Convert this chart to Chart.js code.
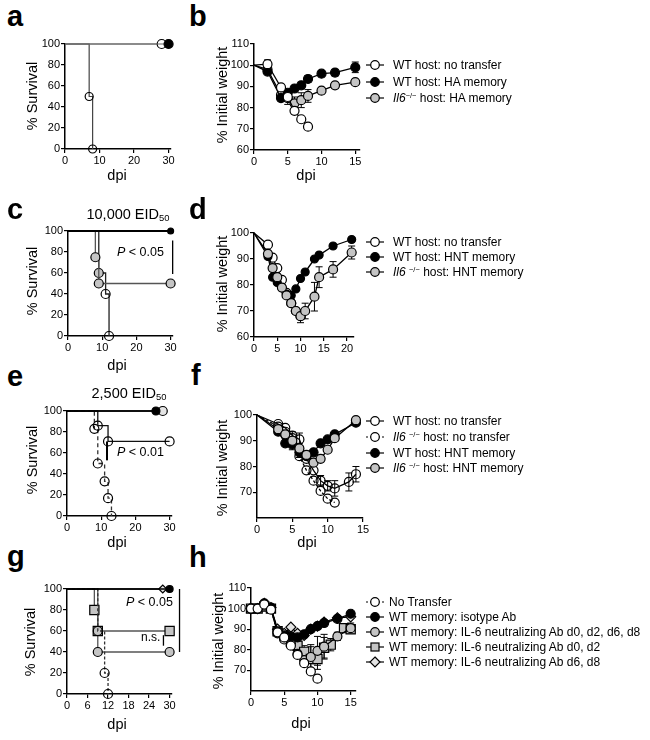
<!DOCTYPE html>
<html><head><meta charset="utf-8">
<script src="https://cdn.jsdelivr.net/npm/chart.js@4.4.0/dist/chart.umd.min.js"></script>
<style>
body{margin:0;background:#fff;width:650px;height:740px;position:relative;overflow:hidden;font-family:"Liberation Sans",Arial,Helvetica,sans-serif;color:#000;}
canvas{position:absolute;}
.t{position:absolute;white-space:nowrap;line-height:1;}
.sub{font-size:0.65em;position:relative;top:0.25em;}
.sup{font-size:0.62em;position:relative;top:-0.55em;}
svg{position:absolute;}
</style></head><body>
<script>
// ---------------- DATA ----------------
// a: survival, HA memory
const aNoTransferDay = [0, 7, 8];
const aNoTransferSurv = [100, 50, 0];
const aHAMemDay = [0, 30];
const aHAMemSurv = [100, 100];
const aIl6HAMemDay = [0, 28];
const aIl6HAMemSurv = [100, 100];
const aXTicks = [0, 10, 20, 30];
const aYTicks = [0, 20, 40, 60, 80, 100];

// b: weight, HA memory
const bNoTransferDay = [0, 2, 4, 5, 6, 7, 8];
const bNoTransferWeight = [100, 100.5, 89.5, 85, 78.5, 74.5, 71];
const bNoTransferSEM = [0, 2, 1, 1, 1.5, 0, 0];
const bHAMemDay = [0, 2, 4, 5, 6, 7, 8, 10, 12, 15];
const bHAMemWeight = [100, 97, 84.5, 87, 89, 90.5, 93.5, 96, 96.5, 99];
const bHAMemSEM = [0, 1, 1, 1.5, 1.5, 1.5, 1.5, 1.5, 1.5, 2.5];
const bIl6HAMemWeight = [100, 98, 86, 84.5, 82, 83.5, 85.5, 88, 90.5, 92];
const bIl6HAMemSEM = [0, 1, 1, 3, 3, 3.5, 3, 1.5, 1, 1];
const bXTicks = [0, 5, 10, 15];
const bYTicks = [60, 70, 80, 90, 100, 110];

// c: survival, 10,000 EID50
const cNoTransferDay = [0, 9, 11, 12];
const cNoTransferSurv = [100, 60, 40, 0];
const cHNTMemDay = [0, 30];
const cHNTMemSurv = [100, 100];
const cIl6HNTMemDay = [0, 8, 9, 30];
const cIl6HNTMemSurv = [100, 75, 50, 50];
const cXTicks = [0, 10, 20, 30];
const cYTicks = [0, 20, 40, 60, 80, 100];

// d: weight, HNT memory (10,000 EID50)
const dNoTransferDay = [0, 3, 4, 5, 6, 7, 8, 9, 10];
const dNoTransferWeight = [100, 95.5, 90.5, 86.5, 82, 77, 73, 70, 68];
const dMemDay = [0, 3, 4, 5, 6, 7, 8, 9, 10, 11, 13, 14, 17, 21];
const dHNTMemWeight = [100, 91, 83, 81, 79, 76.5, 76, 78.5, 82.5, 85, 90, 91.5, 95, 97.5];
const dIl6HNTMemWeight = [100, 92, 86.5, 83, 79, 76, 73, 70, 68, 70, 75.5, 83, 86, 92.5];
const dIl6HNTMemSEM = [0, 0, 0, 0, 0, 0, 0, 1, 2.5, 3, 5.5, 4, 3, 2.5];
const dXTicks = [0, 5, 10, 15, 20];
const dYTicks = [60, 70, 80, 90, 100];

// e: survival, 2,500 EID50
const eWTNoTransferDay = [0, 9, 12, 30];
const eWTNoTransferSurv = [100, 86, 71, 71];
const eIl6NoTransferDay = [0, 8, 9, 11, 12, 13];
const eIl6NoTransferSurv = [100, 83, 50, 33, 17, 0];
const eWTHNTMemDay = [0, 26];
const eWTHNTMemSurv = [100, 100];
const eIl6HNTMemDay = [0, 28];
const eIl6HNTMemSurv = [100, 100];
const eXTicks = [0, 10, 20, 30];
const eYTicks = [0, 20, 40, 60, 80, 100];

// f: weight, 2,500 EID50
const fWTNoTransferDay = [0, 3, 4, 5, 6, 7, 8, 9, 10, 11, 13, 14];
const fWTNoTransferWeight = [100, 96.5, 95, 92, 90.5, 83, 78.5, 74.5, 72.5, 71.5, 74, 77];
const fWTNoTransferSEM = [0, 0, 0, 1.5, 2.5, 0, 0, 2, 2, 3, 3.5, 3];
const fIl6NoTransferDay = [0, 3, 4, 5, 6, 7, 8, 9, 10, 11];
const fIl6NoTransferWeight = [100, 95.5, 93.5, 91, 84, 78.5, 74.5, 70.5, 67.5, 66];
const fMemDay = [0, 3, 4, 5, 6, 7, 8, 9, 10, 11, 14];
const fWTHNTMemWeight = [100, 93.5, 89, 88.5, 85.5, 84, 85.5, 89, 90.5, 92.5, 97];
const fWTHNTMemSEM = [0, 0, 0, 2, 2, 1, 1, 0.5, 0.5, 0.5, 0.5];
const fIl6HNTMemWeight = [100, 94.5, 92.5, 90, 87, 84.5, 81.5, 83, 86.5, 91, 98];
const fIl6HNTMemSEM = [0, 0, 0, 1.5, 2, 1, 1, 1, 1, 1, 1];
const fXTicks = [0, 5, 10, 15];
const fYTicks = [70, 80, 90, 100];

// g: survival, IL-6 neutralization
const gNoTransferDay = [0, 9, 11, 12];
const gNoTransferSurv = [100, 60, 20, 0];
const gIsotypeDay = [0, 30];
const gIsotypeSurv = [100, 100];
const gNeutAllDay = [0, 9, 30];
const gNeutAllSurv = [100, 40, 40];
const gNeutD0D2Day = [0, 8, 9, 30];
const gNeutD0D2Surv = [100, 80, 60, 60];
const gNeutD6D8Day = [0, 28];
const gNeutD6D8Surv = [100, 100];
const gXTicks = [0, 6, 12, 18, 24, 30];
const gYTicks = [0, 20, 40, 60, 80, 100];

// h: weight, IL-6 neutralization
const hNoTransferDay = [0, 1, 2, 3, 4, 5, 6, 7, 8, 9, 10];
const hNoTransferWeight = [100, 100, 102, 99.5, 88.5, 86, 82, 77.5, 73.5, 69.5, 66];
const hIsotypeDay = [0, 1, 2, 3, 4, 5, 6, 7, 8, 9, 10, 11, 13, 15];
const hIsotypeWeight = [100, 100, 102.5, 100.5, 89, 87, 86.5, 86, 87.5, 90, 91.5, 93, 95, 97.5];
const hNeutAllDay = [0, 1, 2, 3, 4, 5, 6, 7, 8, 9, 10, 11, 13, 15];
const hNeutAllWeight = [100, 100, 101.5, 100, 88, 85, 83, 78, 75, 76.5, 79.5, 81.5, 86.5, 90.5];
const hNeutAllSEM = [0, 0, 0, 0, 0, 1, 1, 1.5, 1.5, 6, 7, 6, 2, 2.5];
const hNeutD0D2Day = [0, 1, 2, 3, 4, 5, 6, 7, 8, 9, 10, 11, 12, 14, 15];
const hNeutD0D2Weight = [100, 100, 101, 100, 89, 87, 84, 82, 79, 75.5, 75.5, 81, 82.5, 90.5, 90];
const hNeutD0D2SEM = [0, 0, 0, 0, 0, 1, 1, 1.5, 3, 6, 5, 5, 3, 2, 2];
const hNeutD6D8Day = [0, 1, 2, 3, 4, 5, 6, 7, 8, 9, 10, 11, 13, 15];
const hNeutD6D8Weight = [100, 100, 102.5, 100.5, 90, 88, 91, 88, 87, 90, 91.5, 93.5, 95.5, 96];
const hXTicks = [0, 5, 10, 15];
const hYTicks = [70, 80, 90, 100, 110];

// significance brackets (x in dpi, from/to in % survival)
const cSigX = [30.6], cSigFrom = [91], cSigTo = [59];
const eSigX = [11.7], eSigFrom = [71], eSigTo = [53];
const gSigX = [32.9, 28.2], gSigFrom = [100, 56], gSigTo = [40, 46];

// ---------------- HELPERS ----------------
Chart.defaults.font.family = "'Liberation Sans', Arial, Helvetica, sans-serif";
Chart.defaults.color = '#000';
const WY = 45, HX = 22, PT = 10, PR = 12;
const GRAY = '#c4c4c4', LGRAY = '#e4e4e4', NONE = 'rgba(0,0,0,0)';
const noFirst = r => (c => c.dataIndex === 0 ? 0 : r);

const errorBarPlugin = {
  id: 'errbars',
  beforeDatasetsDraw(chart) {
    const ctx = chart.ctx, xs = chart.scales.x, ys = chart.scales.y;
    chart.data.datasets.forEach(d => {
      if (!d.sem) return;
      ctx.save(); ctx.strokeStyle = '#000'; ctx.lineWidth = 1;
      d.data.forEach((p, j) => {
        const e = d.sem[j]; if (!e) return;
        const px = xs.getPixelForValue(p.x), y1 = ys.getPixelForValue(p.y + e), y2 = ys.getPixelForValue(p.y - e);
        ctx.beginPath();
        ctx.moveTo(px, y1); ctx.lineTo(px, y2);
        ctx.moveTo(px - 3.5, y1); ctx.lineTo(px + 3.5, y1);
        ctx.moveTo(px - 3.5, y2); ctx.lineTo(px + 3.5, y2);
        ctx.stroke();
      });
      ctx.restore();
    });
  }
};
function sigPlugin(xs, from, to, w) {
  return {
    id: 'sig',
    afterDatasetsDraw(chart) {
      const ctx = chart.ctx, sx = chart.scales.x, sy = chart.scales.y;
      ctx.save(); ctx.strokeStyle = '#000'; ctx.lineWidth = w || 1.3;
      xs.forEach((x, i) => {
        const px = sx.getPixelForValue(x);
        ctx.beginPath(); ctx.moveTo(px, sy.getPixelForValue(from[i])); ctx.lineTo(px, sy.getPixelForValue(to[i])); ctx.stroke();
      });
      ctx.restore();
    }
  };
}
function pts(xs, ys) { return xs.map((x, i) => ({ x: x, y: ys[i] })); }
function ds(xs, ys, st) {
  return Object.assign({
    data: pts(xs, ys), borderColor: '#000', borderWidth: 1.3, pointRadius: 4.5,
    pointBorderWidth: 1.2, pointBorderColor: '#000', pointBackgroundColor: '#fff',
    clip: false, tension: 0, fill: false
  }, st);
}
function km(xs, ys, st, r) {
  return ds(xs, ys, Object.assign({ stepped: true, pointRadius: noFirst(r || 4) }, st));
}
function axis(min, max, ticks, isX) {
  return {
    type: 'linear', min: min, max: max,
    afterFit: s => { if (isX) s.height = HX; else s.width = WY; },
    afterBuildTicks: s => { s.ticks = ticks.map(v => ({ value: v })); },
    ticks: { font: { size: 11 }, color: '#000', padding: 1, maxRotation: 0, autoSkip: false, callback: v => String(v) },
    grid: { drawOnChartArea: false, drawTicks: true, tickLength: 4, color: '#000', lineWidth: 1.2 },
    border: { display: true, color: '#000', width: 1.5 }
  };
}
function makeChart(area, xr, yr, datasets, extra) {
  const cv = document.createElement('canvas');
  const left = area.l - WY, top = area.t - PT;
  const w = area.r + PR - left, h = area.b + HX - top;
  cv.width = w; cv.height = h;
  cv.style.cssText = 'left:' + left + 'px;top:' + top + 'px;width:' + w + 'px;height:' + h + 'px';
  document.body.appendChild(cv);
  new Chart(cv.getContext('2d'), {
    type: 'line',
    data: { datasets: datasets },
    options: {
      animation: false, responsive: false, devicePixelRatio: 1,
      layout: { padding: { left: 0, right: PR, top: PT, bottom: 0 } },
      plugins: { legend: { display: false }, tooltip: { enabled: false } },
      scales: { x: axis(xr[0], xr[1], xr[2], true), y: axis(yr[0], yr[1], yr[2], false) }
    },
    plugins: [errorBarPlugin].concat(extra || [])
  });
}
function txt(html, x, base, size, o) {
  o = o || {};
  const d = document.createElement('div'); d.className = 't'; d.innerHTML = html;
  d.style.fontSize = size + 'px'; d.style.top = (base - 0.8465 * size) + 'px'; d.style.left = x + 'px';
  if (o.bold) d.style.fontWeight = 'bold';
  if (o.center) d.style.transform = 'translateX(-50%)';
  document.body.appendChild(d);
}
function vtxt(html, cx, cy, size) {
  const d = document.createElement('div'); d.className = 't'; d.innerHTML = html;
  d.style.fontSize = size + 'px'; d.style.left = cx + 'px'; d.style.top = cy + 'px';
  d.style.transform = 'translate(-50%,-50%) rotate(-90deg)';
  document.body.appendChild(d);
}
const NS = 'http://www.w3.org/2000/svg';
function legend(cx, cy, mk, html, tx) {
  const s = document.createElementNS(NS, 'svg');
  s.setAttribute('width', 22); s.setAttribute('height', 14);
  s.style.left = (cx - 11) + 'px'; s.style.top = (cy - 7) + 'px';
  const ln = document.createElementNS(NS, 'line');
  ln.setAttribute('x1', 2); ln.setAttribute('x2', 20); ln.setAttribute('y1', 7); ln.setAttribute('y2', 7);
  ln.setAttribute('stroke', '#000'); ln.setAttribute('stroke-width', 1.2);
  if (mk.dash) ln.setAttribute('stroke-dasharray', '2,2');
  s.appendChild(ln);
  let sh;
  if (mk.shape === 'rect') {
    sh = document.createElementNS(NS, 'rect');
    sh.setAttribute('x', 7); sh.setAttribute('y', 3); sh.setAttribute('width', 8); sh.setAttribute('height', 8);
  } else if (mk.shape === 'diamond') {
    sh = document.createElementNS(NS, 'polygon');
    sh.setAttribute('points', '11,2 16,7 11,12 6,7');
  } else {
    sh = document.createElementNS(NS, 'circle');
    sh.setAttribute('cx', 11); sh.setAttribute('cy', 7); sh.setAttribute('r', 4.3);
  }
  sh.setAttribute('fill', mk.fill); sh.setAttribute('stroke', '#000'); sh.setAttribute('stroke-width', 1.2);
  s.appendChild(sh);
  document.body.appendChild(s);
  const d = document.createElement('div'); d.className = 't'; d.innerHTML = html;
  d.style.fontSize = '12px'; d.style.left = tx + 'px'; d.style.top = (cy - 6) + 'px';
  document.body.appendChild(d);
}
const IL6 = '<i>Il6</i><span class="sup">&#8722;/&#8722;</span>';
const IL6s = '<i>Il6</i> <span class="sup">&#8722;/&#8722;</span>';

// ---------------- PANEL a ----------------
makeChart({ l: 65, r: 171, t: 44, b: 149 }, [0, 30.7, aXTicks], [0, 100, aYTicks], [
  km(aHAMemDay, aHAMemSurv, { borderColor: '#666', borderWidth: 1.2, pointBackgroundColor: '#000' }, 4.5),
  km(aIl6HAMemDay, aIl6HAMemSurv, { borderColor: '#666', borderWidth: 1.2, pointBackgroundColor: '#fff' }, 4.5),
  km(aNoTransferDay, aNoTransferSurv, { borderColor: '#444', borderWidth: 1.2, pointBackgroundColor: NONE }, 4)
]);
// ---------------- PANEL b ----------------
makeChart({ l: 254, r: 360, t: 44, b: 150 }, [0, 15.7, bXTicks], [60, 110, bYTicks], [
  ds(bNoTransferDay, bNoTransferWeight, { sem: bNoTransferSEM, pointRadius: noFirst(4.5), pointBackgroundColor: '#fff' }),
  ds(bHAMemDay, bHAMemWeight, { sem: bHAMemSEM, pointRadius: noFirst(4.5), pointBackgroundColor: '#000' }),
  ds(bHAMemDay, bIl6HAMemWeight, { sem: bIl6HAMemSEM, pointRadius: noFirst(4.5), pointBackgroundColor: GRAY })
]);
// ---------------- PANEL c ----------------
makeChart({ l: 68, r: 173, t: 231, b: 336 }, [0, 30.7, cXTicks], [0, 100, cYTicks], [
  km(cHNTMemDay, cHNTMemSurv, { borderColor: '#000', borderWidth: 2, pointBackgroundColor: '#000' }, 3),
  km(cIl6HNTMemDay, cIl6HNTMemSurv, { borderColor: '#555', borderWidth: 1.3, pointBackgroundColor: GRAY }, 4.5),
  km(cNoTransferDay, cNoTransferSurv, { borderColor: '#222', borderWidth: 1.3, pointBackgroundColor: [NONE, GRAY, NONE, NONE] }, 4.5)
], [sigPlugin(cSigX, cSigFrom, cSigTo, 1.3)]);
// ---------------- PANEL d ----------------
makeChart({ l: 254, r: 354, t: 233, b: 337 }, [0, 21.5, dXTicks], [60, 100, dYTicks], [
  ds(dMemDay, dIl6HNTMemWeight, { sem: dIl6HNTMemSEM, pointRadius: noFirst(4.5), pointBackgroundColor: GRAY }),
  ds(dMemDay, dHNTMemWeight, { pointBackgroundColor: '#000', pointRadius: noFirst(4) }),
  ds(dNoTransferDay, dNoTransferWeight, { pointRadius: noFirst(4.5), pointBackgroundColor: '#fff' })
]);
// ---------------- PANEL e ----------------
makeChart({ l: 67, r: 172, t: 411, b: 516 }, [0, 30.7, eXTicks], [0, 100, eYTicks], [
  km(eWTHNTMemDay, eWTHNTMemSurv, { borderColor: '#000', borderWidth: 1.5, pointBackgroundColor: '#000' }, 4),
  km(eIl6HNTMemDay, eIl6HNTMemSurv, { borderColor: '#000', borderWidth: 1.5, pointBackgroundColor: LGRAY }, 4.5),
  km(eWTNoTransferDay, eWTNoTransferSurv, { borderColor: '#111', borderWidth: 1.3, pointBackgroundColor: NONE }, 4.5),
  km(eIl6NoTransferDay, eIl6NoTransferSurv, { borderColor: '#333', borderWidth: 1.3, borderDash: [4, 3], pointBackgroundColor: NONE }, 4.5)
], [sigPlugin(eSigX, eSigFrom, eSigTo, 2)]);
// ---------------- PANEL f ----------------
makeChart({ l: 257, r: 363, t: 415, b: 518 }, [0, 15, fXTicks], [60, 100, fYTicks], [
  ds(fMemDay, fIl6HNTMemWeight, { sem: fIl6HNTMemSEM, pointRadius: noFirst(4.5), pointBackgroundColor: GRAY }),
  ds(fMemDay, fWTHNTMemWeight, { sem: fWTHNTMemSEM, pointRadius: noFirst(4.5), pointBackgroundColor: '#000' }),
  ds(fWTNoTransferDay, fWTNoTransferWeight, { sem: fWTNoTransferSEM, pointRadius: noFirst(4.5), pointBackgroundColor: NONE }),
  ds(fIl6NoTransferDay, fIl6NoTransferWeight, { borderDash: [3, 2], pointRadius: noFirst(4.5), pointBackgroundColor: NONE })
]);
// ---------------- PANEL g ----------------
makeChart({ l: 67, r: 172, t: 589, b: 694 }, [0, 30.7, gXTicks], [0, 100, gYTicks], [
  km(gIsotypeDay, gIsotypeSurv, { borderColor: '#000', borderWidth: 1.5, pointBackgroundColor: '#000' }, 3.5),
  km(gNeutD6D8Day, gNeutD6D8Surv, { borderColor: '#000', borderWidth: 1.5, pointStyle: 'rectRot', pointBackgroundColor: LGRAY }, 4),
  km(gNoTransferDay, gNoTransferSurv, { borderColor: '#333', borderWidth: 1.3, borderDash: [3, 2], pointBackgroundColor: NONE }, 4.5),
  km(gNeutD0D2Day, gNeutD0D2Surv, { borderColor: '#555', borderWidth: 1.3, pointStyle: 'rect', pointBackgroundColor: GRAY }, 6.5),
  km(gNeutAllDay, gNeutAllSurv, { borderColor: '#555', borderWidth: 1.3, pointBackgroundColor: GRAY }, 4.5)
], [sigPlugin(gSigX, gSigFrom, gSigTo, 1.3)]);
// ---------------- PANEL h ----------------
makeChart({ l: 251, r: 356, t: 588, b: 691 }, [0, 15.8, hXTicks], [60, 110, hYTicks], [
  ds(hNoTransferDay, hNoTransferWeight, { borderDash: [3, 2], pointBackgroundColor: '#fff' }),
  ds(hIsotypeDay, hIsotypeWeight, { pointBackgroundColor: '#000' }),
  ds(hNeutD6D8Day, hNeutD6D8Weight, { pointStyle: 'rectRot', pointRadius: 5, pointBackgroundColor: LGRAY }),
  ds(hNeutAllDay, hNeutAllWeight, { sem: hNeutAllSEM, pointBackgroundColor: GRAY }),
  ds(hNeutD0D2Day, hNeutD0D2Weight, { sem: hNeutD0D2SEM, pointStyle: 'rect', pointRadius: 6.5, pointBackgroundColor: GRAY })
]);

// ---------------- TEXT ----------------
[['a', 7, 27], ['b', 189, 27], ['c', 7, 220], ['d', 189, 220], ['e', 7, 387], ['f', 191, 386], ['g', 7, 567], ['h', 189, 568]]
  .forEach(p => txt(p[0], p[1], p[2], 29, { bold: true }));
[[32, 96], [32, 281], [32, 460], [30, 642]].forEach(p => vtxt('% Survival', p[0], p[1], 14.5));
[[222, 95], [222, 284], [222, 468], [218, 641]].forEach(p => vtxt('% Initial weight', p[0], p[1], 14.5));
[[117, 180], [306, 180], [117, 370], [117, 547], [307, 547], [117, 729], [301, 728]].forEach(p => txt('dpi', p[0], p[1], 14.5, { center: true }));
txt('10,000 EID<span class="sub">50</span>', 128, 219, 14.5, { center: true });
txt('2,500 EID<span class="sub">50</span>', 129, 398, 14.5, { center: true });
txt('<i>P</i> &lt; 0.05', 117, 257, 12.5);
txt('<i>P</i> &lt; 0.01', 117, 457, 12.5);
txt('<i>P</i> &lt; 0.05', 126, 607, 12.5);
txt('n.s.', 141, 641, 12);

// legends
legend(375, 65, { fill: '#fff' }, 'WT host: no transfer', 393);
legend(375, 81.5, { fill: '#000' }, 'WT host: HA memory', 393);
legend(375, 98, { fill: GRAY }, IL6 + ' host: HA memory', 393);

legend(375, 242, { fill: '#fff' }, 'WT host: no transfer', 393);
legend(375, 257, { fill: '#000' }, 'WT host: HNT memory', 393);
legend(375, 272, { fill: GRAY }, IL6s + ' host: HNT memory', 393);

legend(375, 421, { fill: '#fff' }, 'WT host: no transfer', 393);
legend(375, 437, { fill: '#fff', dash: true }, IL6s + ' host: no transfer', 393);
legend(375, 452.5, { fill: '#000' }, 'WT host: HNT memory', 393);
legend(375, 468, { fill: GRAY }, IL6s + ' host: HNT memory', 393);

legend(375, 602, { fill: '#fff', dash: true }, 'No Transfer', 389);
legend(375, 617, { fill: '#000' }, 'WT memory: isotype Ab', 389);
legend(375, 632, { fill: GRAY }, 'WT memory: IL-6 neutralizing Ab d0, d2, d6, d8', 389);
legend(375, 647, { fill: GRAY, shape: 'rect' }, 'WT memory: IL-6 neutralizing Ab d0, d2', 389);
legend(375, 662, { fill: LGRAY, shape: 'diamond' }, 'WT memory: IL-6 neutralizing Ab d6, d8', 389);
</script>
</body></html>
